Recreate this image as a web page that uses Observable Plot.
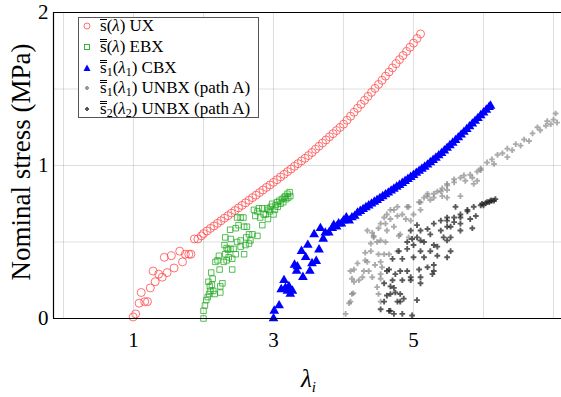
<!DOCTYPE html>
<html>
<head>
<meta charset="utf-8">
<script src="https://cdn.jsdelivr.net/npm/d3@7"></script>
<script src="https://cdn.jsdelivr.net/npm/@observablehq/plot@0.6"></script>
<style>
  body { margin: 0; background: #fff; }
  #wrap { position: relative; width: 561px; height: 397px; font-family: "Liberation Serif", serif; }
  #legend { position: absolute; left: 78px; top: 17px; width: 179px; height: 99px; border: 1px solid #555; background: #fff; font-size: 17px; }
  .row { position: absolute; left: 0; height: 20px; line-height: 20px; white-space: nowrap; }
  .row svg { position: absolute; left: 2px; top: 5px; }
  .row span.t { position: absolute; left: 21px; top: 0; }
  .o1 { display: inline-block; line-height: 11px; border-top: 1px solid #000; padding-top: 0px; }
  .o2 { display: inline-block; line-height: 10px; border-top: 3px double #000; padding-top: 0px; }
  sub { font-size: 12px; vertical-align: -3px; line-height: 0; }
  .lab { position: absolute; white-space: nowrap; }
</style>
</head>
<body>
<div id="wrap"></div>
<script>
// axis setup values
const xDomain = [-0.143, 7.114];
const yDomain = [0, 2];
const xTicks = [1, 3, 5];
const yTicks = [0, 1, 2];
const xGrid = [0, 1, 2, 3, 4, 5, 6, 7];
const yGrid = [0, 0.5, 1, 1.5, 2];

// s(λ) UX  (red open circles)
const ux = [[0.995,0.01],[1.03,0.03],[1.08,0.10],[1.11,0.17],[1.16,0.11],[1.20,0.11],[1.24,0.20],[1.28,0.31],[1.31,0.24],[1.36,0.29],[1.41,0.27],[1.44,0.40],[1.48,0.30],[1.54,0.41],[1.58,0.33],[1.66,0.44],[1.70,0.37],[1.74,0.42],[1.79,0.42],[1.82,0.42],[1.87,0.52],[1.92,0.52],[1.97,0.54],
[2.00,0.555],[2.05,0.572],[2.10,0.589],[2.15,0.605],[2.20,0.622],[2.25,0.639],[2.30,0.656],[2.35,0.672],[2.40,0.689],[2.45,0.706],[2.50,0.723],[2.55,0.739],[2.60,0.756],[2.65,0.773],[2.70,0.79],[2.75,0.806],[2.80,0.823],[2.85,0.84],[2.90,0.857],[2.95,0.873],[3.00,0.89],[3.05,0.907],[3.10,0.925],[3.15,0.942],[3.20,0.96],[3.25,0.977],[3.30,0.995],[3.35,1.012],[3.40,1.03],[3.45,1.047],[3.50,1.065],[3.55,1.085],[3.60,1.106],[3.65,1.126],[3.70,1.147],[3.75,1.167],[3.80,1.188],[3.85,1.208],[3.90,1.229],[3.95,1.249],[4.00,1.27],[4.05,1.296],[4.10,1.322],[4.15,1.348],[4.20,1.374],[4.25,1.40],[4.30,1.426],[4.35,1.452],[4.40,1.478],[4.45,1.504],[4.50,1.53],[4.55,1.557],[4.60,1.584],[4.65,1.611],[4.70,1.638],[4.75,1.665],[4.80,1.692],[4.85,1.719],[4.90,1.746],[4.95,1.773],[5.00,1.80],[5.05,1.83],[5.10,1.86]];

// s(λ) EBX  (green open squares)
const ebx = [[2.00,0.0],[2.00,0.05],[2.02,0.085],[2.04,0.12],[2.06,0.14],[2.08,0.16],[2.10,0.18],[2.14,0.18],[2.09,0.21],[2.16,0.16],[2.24,0.17],[2.27,0.23],[2.24,0.21],[2.07,0.24],[2.12,0.22],[2.13,0.26],[2.11,0.30],[2.23,0.32],[2.41,0.32],[2.17,0.37],[2.20,0.38],[2.22,0.41],[2.29,0.37],[2.33,0.38],[2.31,0.42],[2.36,0.40],[2.30,0.48],[2.35,0.45],[2.39,0.52],[2.33,0.46],[2.385,0.455],[2.43,0.455],[2.46,0.42],[2.41,0.39],[2.58,0.42],[2.53,0.47],[2.60,0.48],[2.48,0.50],[2.53,0.51],[2.65,0.49],[2.67,0.51],[2.61,0.53],[2.65,0.55],[2.70,0.55],[2.77,0.54],[2.31,0.53],[2.38,0.58],[2.46,0.59],[2.50,0.61],[2.58,0.60],[2.62,0.60],[2.84,0.61],[2.48,0.66],[2.53,0.66],[2.57,0.66],[2.72,0.71],[2.74,0.67],[2.77,0.70],[2.79,0.72],[2.84,0.72],[2.81,0.66],[2.86,0.68],[2.89,0.68],[2.92,0.65],[2.91,0.72],[2.93,0.71],[2.95,0.70],[2.96,0.73],[2.98,0.75],[3.00,0.68],[3.02,0.71],[3.03,0.74],[3.05,0.76],[3.06,0.73],[3.08,0.77],[3.10,0.75],[3.12,0.78],[3.14,0.76],[3.15,0.79],[3.17,0.80],[3.18,0.78],[3.20,0.815],[3.21,0.79],[3.23,0.826],[3.24,0.80]];

// s1(λ1) CBX  (blue filled triangles)
const cbx = [[3.00,0.0],[3.01,0.05],[3.08,0.085],[3.11,0.19],[3.15,0.25],[3.17,0.20],[3.22,0.21],[3.20,0.18],[3.24,0.16],[3.27,0.18],[3.30,0.35],[3.34,0.34],[3.33,0.31],[3.42,0.27],[3.46,0.40],[3.52,0.31],[3.55,0.36],[3.61,0.375],[3.40,0.44],[3.49,0.48],[3.65,0.45],[3.58,0.55],[3.71,0.52],[3.67,0.59],[3.74,0.56],[3.79,0.56],[3.84,0.59],[3.86,0.61],[3.90,0.60],[3.93,0.62],[3.97,0.62],[4.00,0.64],[4.04,0.66],[4.08,0.64],[4.12,0.66],[4.16,0.67],
[4.20,0.690],[4.24,0.702],[4.28,0.714],[4.32,0.726],[4.36,0.738],[4.40,0.750],[4.44,0.762],[4.48,0.774],[4.52,0.786],[4.56,0.798],[4.60,0.810],[4.64,0.822],[4.68,0.835],[4.72,0.847],[4.76,0.860],[4.80,0.872],[4.84,0.885],[4.88,0.898],[4.92,0.911],[4.96,0.924],[5.00,0.937],[5.04,0.951],[5.08,0.964],[5.12,0.978],[5.16,0.991],[5.20,1.005],[5.24,1.020],[5.28,1.035],[5.32,1.050],[5.36,1.065],[5.40,1.080],[5.44,1.097],[5.48,1.114],[5.52,1.131],[5.56,1.148],[5.60,1.165],[5.64,1.183],[5.68,1.201],[5.72,1.219],[5.76,1.237],[5.80,1.255],[5.84,1.273],[5.88,1.291],[5.92,1.309],[5.96,1.327],[6.00,1.345],[6.04,1.363],[6.08,1.381],[6.10,1.390]];

// s1(λ1) UNBX path A  (light grey)
const unbx1 = [[4.03,0.03],[4.08,0.10],[4.10,0.11],[4.14,0.165],[4.12,0.26],[4.15,0.32],[4.22,0.25],[4.27,0.27],[4.31,0.38],[4.34,0.37],[4.39,0.44],[4.31,0.43],[4.41,0.56],[4.43,0.54],[4.48,0.50],[4.50,0.42],[4.53,0.37],[4.55,0.335],[4.58,0.66],[4.60,0.62],[4.62,0.68],[4.67,0.65],[4.72,0.71],[4.77,0.67],[4.84,0.68],[4.89,0.65],[4.93,0.73],[4.96,0.64],[5.00,0.68],[5.08,0.76],[5.10,0.71],[5.15,0.79],[5.20,0.80],[5.24,0.775],[5.29,0.815],[5.34,0.83],[5.41,0.80],[5.48,0.84],[4.50,0.59],[4.79,0.54],[4.93,0.53],[4.29,0.31],[4.65,0.42],[4.77,0.44],[4.10,0.31],[4.15,0.24],[4.12,0.16],[4.36,0.31],[4.41,0.27],[4.53,0.29],[4.48,0.205],[4.50,0.16],[4.53,0.11],[4.53,0.26],[5.41,0.85],[5.48,0.87],[5.58,0.89],[5.67,0.92],[5.74,0.90],[5.81,0.94],[5.86,0.88],[5.91,0.90],[5.91,0.96],[5.96,0.98],[6.05,1.02],[6.12,1.04],[6.20,1.07],[6.27,1.08],[6.34,1.11],[6.41,1.10],[6.46,1.14],[6.53,1.13],[6.58,1.17],[6.65,1.16],[6.70,1.21],[6.77,1.25],[6.81,1.23],[6.89,1.26],[6.91,1.29],[6.96,1.27],[7.03,1.34],[7.00,1.30],[7.05,1.28],[5.48,0.79],[5.67,0.80],[4.34,0.575],[4.43,0.53],[4.53,0.51],[4.67,0.71],[4.77,0.73],[4.91,0.73],[5.10,0.76],[5.20,0.815],[5.29,0.79],[5.39,0.83],[5.48,0.88],[5.58,0.91],[5.72,0.935],[5.84,0.92],[5.96,0.97],[6.15,1.01],[6.34,1.055],[4.53,0.62],[4.62,0.575],[4.72,0.60],[4.81,0.55],[4.39,0.49],[4.58,0.42],[4.20,0.36],[4.45,0.35],[4.60,0.50]];

// s2(λ2) UNBX path A  (dark grey)
const unbx2 = [[4.62,0.31],[4.70,0.39],[4.79,0.44],[4.84,0.39],[4.91,0.50],[4.98,0.52],[5.00,0.40],[5.08,0.32],[5.10,0.27],[4.96,0.25],[4.84,0.25],[4.70,0.25],[4.72,0.20],[4.67,0.16],[4.81,0.16],[4.81,0.11],[4.58,0.11],[4.53,0.06],[4.65,0.05],[4.72,0.03],[4.84,0.03],[4.98,0.02],[5.05,0.12],[5.15,0.40],[5.20,0.335],[5.24,0.44],[5.29,0.31],[5.05,0.53],[5.10,0.575],[5.20,0.585],[5.29,0.62],[5.39,0.64],[5.48,0.66],[5.15,0.50],[5.34,0.47],[5.43,0.53],[5.24,0.55],[5.39,0.575],[5.48,0.60],[4.65,0.32],[4.74,0.29],[4.81,0.31],[4.91,0.31],[4.96,0.27],[4.58,0.23],[4.67,0.21],[4.74,0.17],[4.62,0.15],[4.77,0.11],[4.86,0.13],[4.67,0.05],[5.10,0.23],[5.29,0.35],[5.27,0.29],[6.10,0.77],[6.05,0.76],[6.15,0.77],[6.17,0.78],[5.98,0.75],[5.86,0.73],[5.77,0.71],[5.67,0.68],[5.58,0.66],[5.48,0.64],[5.53,0.60],[5.67,0.62],[5.81,0.65],[5.84,0.59],[5.60,0.73],[5.53,0.53],[5.89,0.67],[6.00,0.74],[5.96,0.74],[5.77,0.70],[5.67,0.66],[5.58,0.63],[5.10,0.51],[5.00,0.48],[4.91,0.455],[5.10,0.44],[5.29,0.48],[5.48,0.51],[5.67,0.575],[4.96,0.575],[5.05,0.61],[5.34,0.41],[5.53,0.44],[5.48,0.40],[6.08,0.76],[6.12,0.77],[6.03,0.755]];

const legendLabels = [
  '<span class="o1">s</span>(<i>λ</i>) UX',
  '<span class="o2">s</span>(<i>λ</i>) EBX',
  '<span class="o2">s</span><sub>1</sub>(<i>λ</i><sub>1</sub>) CBX',
  '<span class="o2">s</span><sub>1</sub>(<i>λ</i><sub>1</sub>) UNBX (path A)',
  '<span class="o2">s</span><sub>2</sub>(<i>λ</i><sub>2</sub>) UNBX (path A)'
];

const red = "#ff4d4d", green = "#22aa22", blue = "#0000ff";

const chart = Plot.plot({
  width: 561, height: 397,
  marginLeft: 53, marginRight: 0, marginTop: 12, marginBottom: 79,
  x: {type: "linear", domain: xDomain},
  y: {type: "linear", domain: yDomain},
  style: {fontFamily: "Liberation Serif, serif", fontSize: "21px", background: "transparent", color: "black", overflow: "hidden"},
  marks: [
    Plot.gridX(xGrid, {stroke: "#000", strokeOpacity: 0.13}),
    Plot.gridY(yGrid, {stroke: "#000", strokeOpacity: 0.13}),
    Plot.dot(ux, {x: d => d[0], y: d => d[1], r: 4, stroke: red, strokeWidth: 0.8, symbol: "circle"}),
    Plot.dot(ebx, {x: d => d[0], y: d => d[1], r: 3.1, stroke: green, strokeWidth: 0.9, strokeOpacity: 0.85, symbol: "square"}),
    Plot.dot(cbx, {x: d => d[0], y: d => d[1], r: 3.6, fill: blue, symbol: "triangle"}),
    Plot.dot(unbx1, {x: d => d[0], y: d => d[1], r: 2.4, fill: "#888", fillOpacity: 0.7, symbol: "cross"}),
    Plot.dot(unbx2, {x: d => d[0], y: d => d[1], r: 2.4, fill: "#222", fillOpacity: 0.75, symbol: "cross"}),
    Plot.ruleX([xDomain[0]], {stroke: "#000", strokeWidth: 1.2}),
    Plot.ruleY([yDomain[0]], {stroke: "#000", strokeWidth: 1.2}),
    Plot.ruleY([yDomain[1]], {stroke: "#000", strokeWidth: 1.2}),
    Plot.axisX(xTicks, {tickSize: 0, tickPadding: 14, fontSize: 21, label: null, tickFormat: d => String(d)}),
    Plot.axisY(yTicks, {tickSize: 0, tickPadding: 5, fontSize: 21, label: null, tickFormat: d => String(d)})
  ]
});

const wrap = document.getElementById("wrap");
wrap.appendChild(chart);

// axis titles
const xl = document.createElement("div");
xl.className = "lab";
xl.style.cssText = "left:301px; top:365px; font-size:25px;";
xl.innerHTML = '<i>λ</i><sub style="font-size:15px;vertical-align:-5px"><i>i</i></sub>';
wrap.appendChild(xl);

const yl = document.createElement("div");
yl.className = "lab";
yl.style.cssText = "left:21px; top:162px; font-size:27px; transform: translate(-50%,-50%) rotate(-90deg);";
yl.textContent = "Nominal stress (MPa)";
wrap.appendChild(yl);

// legend
const legend = document.createElement("div");
legend.id = "legend";
const markers = [
  '<svg width="12" height="10"><circle cx="6" cy="5" r="3" fill="none" stroke="' + red + '" stroke-width="0.8"/></svg>',
  '<svg width="12" height="10"><rect x="3.5" y="2.5" width="5" height="5" fill="none" stroke="' + green + '" stroke-width="0.9"/></svg>',
  '<svg width="12" height="10"><path d="M6,1.5L9.5,8H2.5Z" fill="' + blue + '"/></svg>',
  '<svg width="12" height="10"><path d="M5,3h2v1h1v2h-1v1h-2v-1h-1v-2h1z" fill="#999"/></svg>',
  '<svg width="12" height="10"><path d="M5,3h2v1h1v2h-1v1h-2v-1h-1v-2h1z" fill="#555"/></svg>'
];
const rowCenters = [8, 29, 50, 70, 91];
legendLabels.forEach((lab, i) => {
  const r = document.createElement("div");
  r.className = "row";
  r.style.top = (rowCenters[i] - 10) + "px";
  r.innerHTML = markers[i] + '<span class="t">' + lab + '</span>';
  legend.appendChild(r);
});
wrap.appendChild(legend);
</script>
</body>
</html>
